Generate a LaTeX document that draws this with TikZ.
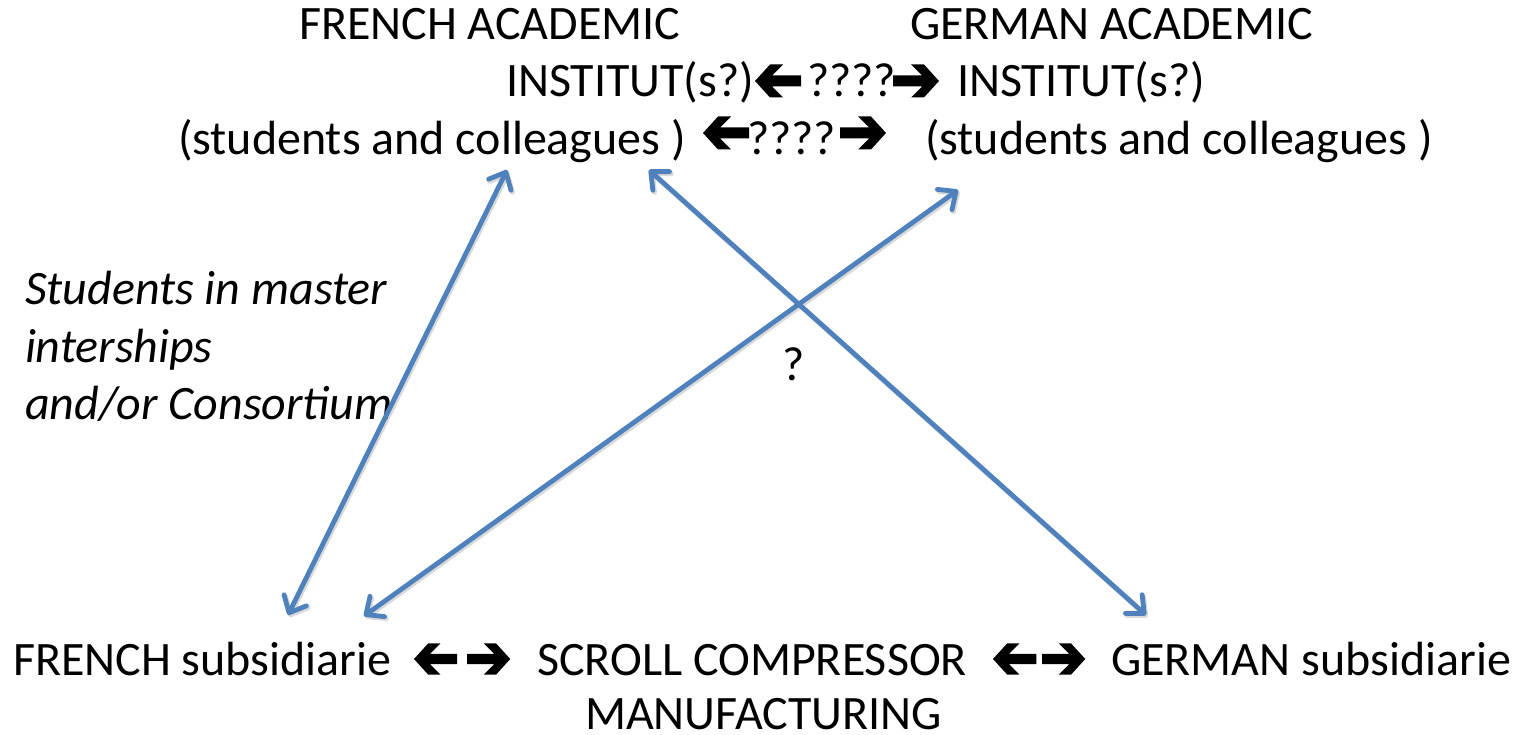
\documentclass[tikz,border=0pt]{standalone}
\usepackage{fontspec}
\setmainfont{Carlito}
\usetikzlibrary{arrows.meta}
\definecolor{linkblue}{RGB}{79,129,189}
\tikzset{
  lbl/.style={inner sep=0pt, outer sep=0pt, anchor=base west, font=\fontsize{48}{58}\selectfont},
  ilbl/.style={lbl, font=\fontsize{48}{58}\selectfont\itshape},
  barb/.tip={Straight Barb[length=14pt,width=25pt,round]},
  link/.style={draw=linkblue, line width=4.8pt, line cap=round, barb-barb,
    preaction={draw=black, opacity=0.15, line width=5pt, transform canvas={shift={(1.5pt,-2pt)}}}},
  rarrow/.pic={\fill[black] (0,-5.5) -- (29,-5.5) -- (18,-16.5) -- (31,-16.5) -- (46,0) -- (31,16.5) -- (18,16.5) -- (29,5.5) -- (0,5.5) -- cycle;},
  larrow/.pic={\fill[black] (46,-5.5) -- (17,-5.5) -- (28,-16.5) -- (15,-16.5) -- (0,0) -- (15,16.5) -- (28,16.5) -- (17,5.5) -- (46,5.5) -- cycle;},
}
\begin{document}
\begin{tikzpicture}[x=1pt,y=-1pt]
\useasboundingbox (0,0) rectangle (1528,735);
% top block
\node[lbl] (fa1) at (299,40) {FRENCH ACADEMIC};
\node[lbl] (ga1) at (910,40) {GERMAN ACADEMIC};
\node[lbl] (fa2) at (506,97) {INSTITUT(s?)};
\pic at (755,81) {larrow};
\node[lbl] (q2) at (807,97) {????};
\pic at (893,81) {rarrow};
\node[lbl] (ga2) at (957,97) {INSTITUT(s?)};
\node[lbl] (fa3) at (178,155) {(students and colleagues )};
\pic at (703,133) {larrow};
\node[lbl] (q3) at (747,155) {????};
\pic at (840,133) {rarrow};
\node[lbl] (ga3) at (925,155) {(students and colleagues )};
% left italic note
\node[ilbl] (n1) at (25,305) {Students in master};
\node[ilbl] (n2) at (25,362) {interships};
\node[ilbl] (n3) at (25,419) {and/or Consortium};
% centre question mark
\node[lbl] (qm) at (782,380) {?};
% bottom block
\node[lbl] (fs) at (13,675) {FRENCH subsidiarie};
\pic[scale=0.94] at (414,659) {larrow};
\pic[scale=0.94] at (467,659) {rarrow};
\node[lbl] (sc1) at (537,675) {SCROLL COMPRESSOR};
\node[lbl] (sc2) at (585,729) {MANUFACTURING};
\pic[scale=0.94] at (993,659) {larrow};
\pic[scale=0.94] at (1042,659) {rarrow};
\node[lbl] (gs) at (1111,675) {GERMAN subsidiarie};
% connector end points
\coordinate (fsA) at (288,615);
\coordinate (faA) at (507,170);
\coordinate (fsB) at (364,616);
\coordinate (gaB) at (958,190);
\coordinate (faC) at (649,170);
\coordinate (gsC) at (1146,615);
\draw[link] (fsA) -- (faA);
\draw[link] (fsB) -- (gaB);
\draw[link] (faC) -- (gsC);
\end{tikzpicture}
\end{document}
